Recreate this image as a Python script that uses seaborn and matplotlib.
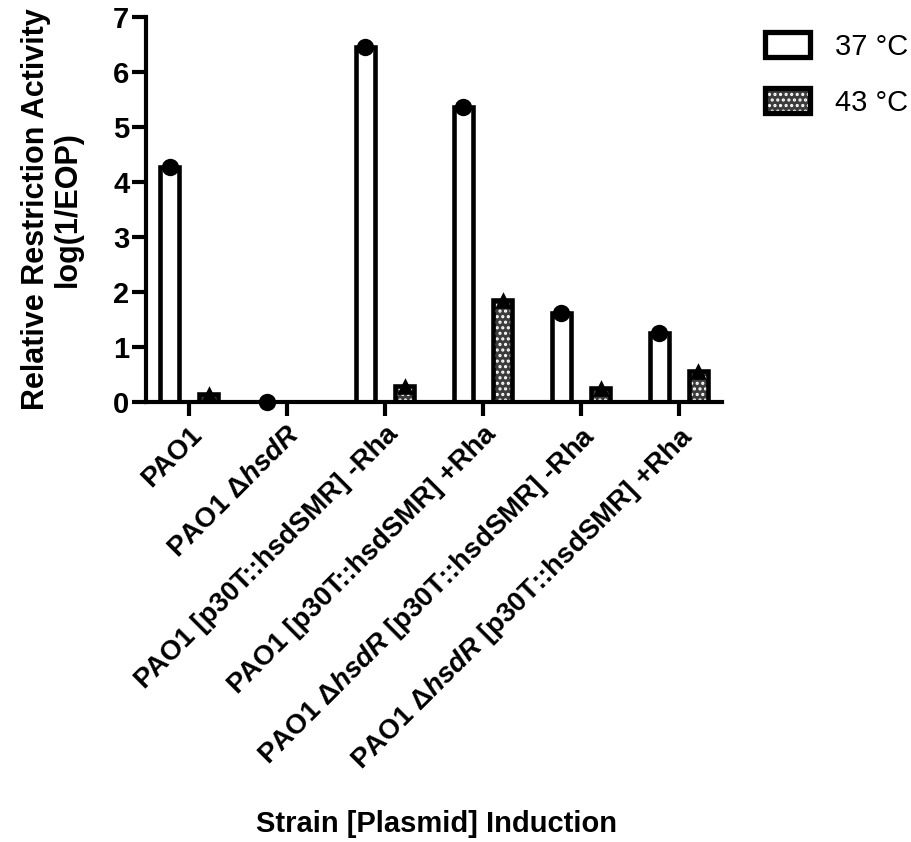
import matplotlib
matplotlib.use("Agg")
import matplotlib.pyplot as plt
from matplotlib.patches import Patch, Rectangle
from matplotlib.legend_handler import HandlerTuple
import seaborn as sns
import numpy as np
import pandas as pd

strains = [
    "PAO1",
    r"PAO1 Δ$\mathit{hsdR}$",
    "PAO1 [p30T::hsdSMR] -Rha",
    "PAO1 [p30T::hsdSMR] +Rha",
    r"PAO1 Δ$\mathit{hsdR}$ [p30T::hsdSMR] -Rha",
    r"PAO1 Δ$\mathit{hsdR}$ [p30T::hsdSMR] +Rha",
]
temps = ["37 °C", "43 °C"]
vals_37 = [4.27, 0.0, 6.46, 5.37, 1.62, 1.26]
vals_43 = [0.15, np.nan, 0.30, 1.85, 0.25, 0.56]
y_ticks = [0, 1, 2, 3, 4, 5, 6, 7]

df = pd.DataFrame({
    "strain": strains * 2,
    "temp": [temps[0]] * len(strains) + [temps[1]] * len(strains),
    "value": vals_37 + vals_43,
})

sns.set_theme(style="ticks")
plt.rcParams["font.family"] = ["Liberation Sans", "DejaVu Sans"]
plt.rcParams["mathtext.fontset"] = "custom"
plt.rcParams["mathtext.it"] = "Liberation Sans:italic:bold"
plt.rcParams["mathtext.rm"] = "Liberation Sans:bold"
plt.rcParams["mathtext.bf"] = "Liberation Sans:bold"
plt.rcParams["hatch.linewidth"] = 1.5
plt.rcParams["hatch.color"] = "white"
for k in ["text.color", "axes.labelcolor", "xtick.color", "ytick.color",
          "axes.edgecolor"]:
    plt.rcParams[k] = "black"

fig = plt.figure(figsize=(9.12, 8.42), dpi=100)
ax = fig.add_axes([146 / 912, 1 - 402 / 842, 576 / 912, 385 / 842])

dark = "#3c3c3c"
sns.barplot(data=df, x="strain", y="value", hue="temp", hue_order=temps,
            order=strains, palette=["white", dark], width=0.8, gap=0.5,
            edgecolor="black", linewidth=3.3, errorbar=None, legend=False,
            ax=ax, saturation=1)

n = len(strains)
bars = list(ax.patches)
for i, p in enumerate(bars):
    p.set_zorder(2)
    if i >= n:
        # white dotted pattern on dark fill, black border drawn on top
        p.set_hatch("...")
        p.set_edgecolor("white")
        p.set_linewidth(0)
        if np.isfinite(p.get_height()) and p.get_height() > 0:
            ax.add_patch(Rectangle(p.get_xy(), p.get_width(), p.get_height(),
                                   fill=False, edgecolor="black",
                                   linewidth=3.3, zorder=3))

for t, mk, sz in [(temps[0], "o", 12.5), (temps[1], "^", 12)]:
    sub = df[df["temp"] == t]
    sns.stripplot(data=sub, x="strain", y="value", hue="temp", hue_order=temps,
                  order=strains, dodge=True, jitter=False, marker=mk, size=sz,
                  palette=["black", "black"], legend=False, ax=ax, zorder=4,
                  linewidth=0)
for c in ax.collections:
    c.set_clip_on(False)

ax.set_xlim(-0.44, n - 1 + 0.44)
ax.set_ylim(0, 7)
ax.set_yticks(y_ticks)
ax.set_yticklabels([str(v) for v in y_ticks], fontsize=21, fontweight="bold")
ax.set_xticks(range(n))
ax.set_xticklabels(strains, rotation=45, ha="right", rotation_mode="anchor",
                   fontsize=20, fontweight="bold")
for s in ["top", "right"]:
    ax.spines[s].set_visible(False)
for s in ["left", "bottom"]:
    ax.spines[s].set_linewidth(3)
    ax.spines[s].set_color("black")
ax.tick_params(axis="both", width=3, length=10, color="black", pad=2)
ax.tick_params(axis="x", pad=4)

ax.set_ylabel("Relative Restriction Activity\nlog(1/EOP)", fontsize=22,
              fontweight="bold", labelpad=22, linespacing=1.05)
ax.set_xlabel("Strain [Plasmid] Induction", fontsize=21, fontweight="bold")
ax.xaxis.set_label_coords(0.505, -1.06)
ax.xaxis.label.set_va("top")

h1 = Patch(facecolor="white", edgecolor="black", linewidth=3.8)
h2_fill = Patch(facecolor=dark, edgecolor="white", linewidth=0, hatch="...")
h2_edge = Patch(facecolor="none", edgecolor="black", linewidth=3.8)
leg = fig.legend([h1, (h2_fill, h2_edge)], temps, loc="upper left",
                 bbox_to_anchor=(765 / 912, 1 - 32 / 842), frameon=False,
                 fontsize=21, handlelength=1.55, handleheight=0.95,
                 handletextpad=0.85, labelspacing=0.95, borderpad=0,
                 borderaxespad=0,
                 handler_map={tuple: HandlerTuple(ndivide=1, pad=0)})

fig.savefig("out.png", dpi=100)
